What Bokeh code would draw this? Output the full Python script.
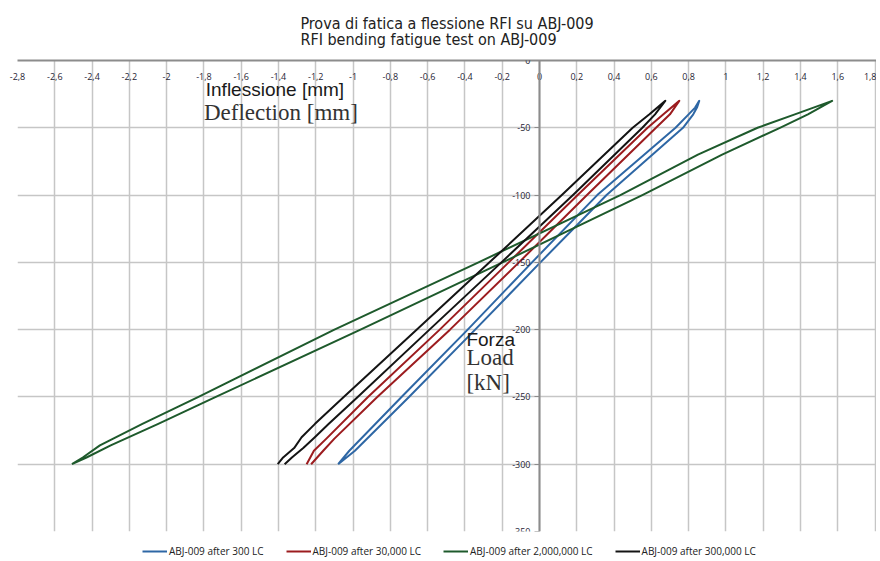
from bokeh.plotting import figure
from bokeh.layouts import column
from bokeh.models import (Range1d, FixedTicker, Label, Title, Legend, LegendItem,
                          CustomJSTickFormatter)
from bokeh.embed import file_html
from bokeh.resources import INLINE

# ---------------- data ----------------
title_it = "Prova di fatica a flessione RFI su ABJ-009"
title_en = "RFI bending fatigue test on ABJ-009"

x_ticks = [-2.8, -2.6, -2.4, -2.2, -2.0, -1.8, -1.6, -1.4, -1.2, -1.0, -0.8, -0.6,
           -0.4, -0.2, 0.0, 0.2, 0.4, 0.6, 0.8, 1.0, 1.2, 1.4, 1.6, 1.8]
x_tick_labels = ["-2,8", "-2,6", "-2,4", "-2,2", "-2", "-1,8", "-1,6", "-1,4", "-1,2", "-1",
                 "-0,8", "-0,6", "-0,4", "-0,2", "0", "0,2", "0,4", "0,6", "0,8", "1",
                 "1,2", "1,4", "1,6", "1,8"]
y_ticks = [0, -50, -100, -150, -200, -250, -300, -350]
y_tick_labels = ["0", "-50", "-100", "-150", "-200", "-250", "-300", "-350"]

series_names = ["ABJ-009 after 300 LC", "ABJ-009 after 30,000 LC",
                "ABJ-009 after 2,000,000 LC", "ABJ-009 after 300,000 LC"]
series_colors = ["#2e67a5", "#9c1c1f", "#1e5a2c", "#141414"]

# load levels [kN] and deflections [mm] of the two branches of each loop
blue_y = [-300, -290, -250, -200, -150, -100, -50, -40, -35, -30]
blue_lower_x = [-1.08, -0.99, -0.70, -0.345, 0.005, 0.36, 0.77, 0.825, 0.845, 0.857]
blue_upper_x = [-1.08, -1.02, -0.74, -0.385, -0.04, 0.31, 0.73, 0.80, 0.835, 0.857]

red_y = [-300, -290, -281, -250, -200, -150, -100, -50, -40, -30]
red_lower_x = [-1.225, -1.16, -1.10, -0.87, -0.48, -0.11, 0.255, 0.625, 0.70, 0.75]
red_upper_x = [-1.249, -1.21, -1.143, -0.92, -0.535, -0.165, 0.205, 0.58, 0.665, 0.75]

green_y = [-300, -295, -286, -270, -250, -200, -150, -100, -70, -50, -40, -30]
green_lower_x = [-2.508, -2.43, -2.30, -2.045, -1.736, -0.96, -0.198, 0.552, 0.98, 1.29, 1.44, 1.57]
green_upper_x = [-2.508, -2.45, -2.358, -2.13, -1.829, -1.10, -0.327, 0.434, 0.85, 1.17, 1.37, 1.57]

black_y = [-300, -295, -288, -280, -270, -250, -200, -150, -100, -50, -40, -30]
black_lower_x = [-1.367, -1.328, -1.267, -1.205, -1.13, -0.975, -0.59, -0.204, 0.18, 0.552, 0.62, 0.675]
black_upper_x = [-1.404, -1.375, -1.316, -1.276, -1.204, -1.05, -0.659, -0.268, 0.12, 0.50, 0.59, 0.675]

loops = [
    (blue_y, blue_lower_x, blue_upper_x),
    (red_y, red_lower_x, red_upper_x),
    (green_y, green_lower_x, green_upper_x),
    (black_y, black_lower_x, black_upper_x),
]

LABEL_JS = """
let best = 0, bd = Infinity;
for (let i = 0; i < tvals.length; i++) {
  const d = Math.abs(tvals[i] - tick);
  if (d < bd) { bd = d; best = i; }
}
return ttext[best];
"""

# ---------------- main figure ----------------
p = figure(width=876, height=539, output_backend="svg", toolbar_location=None,
           title=None, x_axis_location="above",
           x_range=Range1d(-2.8, 1.808), y_range=Range1d(-350, 0),
           min_border_left=17, min_border_right=0, min_border_top=59, min_border_bottom=8)
p.outline_line_color = None

# x axis along y = 0 (top edge of the frame), labels below the line
xax = p.xaxis[0]
xax.ticker = FixedTicker(ticks=x_ticks)
xax.formatter = CustomJSTickFormatter(args=dict(tvals=x_ticks, ttext=x_tick_labels), code=LABEL_JS)
xax.axis_line_color = "#8c8c8c"
xax.axis_line_width = 2
xax.major_tick_in = 0
xax.major_tick_out = 0
xax.minor_tick_line_color = None
xax.major_label_standoff = -19
xax.major_label_text_font = "Open Sans"
xax.major_label_text_font_size = "9px"
xax.major_label_text_color = "#1f2535"

p.add_layout(Title(text=title_it + "\n" + title_en, align="center", offset=5,
                   text_font="DejaVu Sans Condensed", text_font_size="16px",
                   text_font_style="normal", text_color="#222222",
                   text_line_height=0.85, standoff=23), "above")

# y axis along x = 0
yax = p.yaxis[0]
yax.fixed_location = 0
yax.ticker = FixedTicker(ticks=y_ticks)
yax.formatter = CustomJSTickFormatter(args=dict(tvals=y_ticks, ttext=y_tick_labels), code=LABEL_JS)
yax.axis_line_color = "#8c8c8c"
yax.axis_line_width = 2
yax.major_tick_in = 0
yax.major_tick_out = 5
yax.major_tick_line_color = "#8c8c8c"
yax.minor_tick_line_color = None
yax.major_label_standoff = 4
yax.major_label_text_font = "Open Sans"
yax.major_label_text_font_size = "9px"
yax.major_label_text_color = "#1f2535"

p.xgrid[0].grid_line_color = "#c6c6c6"
p.xgrid[0].grid_line_width = 1.5
p.ygrid[0].grid_line_color = "#c6c6c6"
p.ygrid[0].grid_line_width = 1.5

for (ys, lower, upper), col in zip(loops, series_colors):
    xs = list(lower) + list(upper)[::-1]
    yy = list(ys) + list(ys)[::-1]
    p.line(xs, yy, line_color=col, line_width=2, line_join="round")

p.add_layout(Label(x=-1.79, y=-21.5, text="Inflessione [mm]", text_font="Liberation Sans",
                   text_font_size="19px", text_color="#1a1a1a", text_baseline="middle"))
p.add_layout(Label(x=-1.80, y=-38.5, text="Deflection [mm]", text_font="Liberation Serif",
                   text_font_size="23px", text_color="#333333", text_baseline="middle"))
p.add_layout(Label(x=-0.392, y=-207, text="Forza", text_font="Liberation Sans",
                   text_font_size="19px", text_color="#1a1a1a", text_baseline="middle"))
p.add_layout(Label(x=-0.392, y=-220.5, text="Load", text_font="Liberation Serif",
                   text_font_size="23px", text_color="#333333", text_baseline="middle"))
p.add_layout(Label(x=-0.392, y=-239, text="[kN]", text_font="Liberation Serif",
                   text_font_size="23px", text_color="#333333", text_baseline="middle"))

# ---------------- legend strip below ----------------
q = figure(width=876, height=20, output_backend="svg", toolbar_location=None,
           title=None, x_range=Range1d(0, 1), y_range=Range1d(0, 1),
           min_border=0)
q.axis.visible = False
q.grid.visible = False
q.outline_line_color = None
items = []
for name, col in zip(series_names, series_colors):
    r = q.line(x=[0.5], y=[0.5], line_color=col, line_width=2)
    items.append(LegendItem(label=name, renderers=[r]))
legend = Legend(items=items, orientation="horizontal", location=(125, 1),
                label_text_font="Open Sans", label_text_font_size="10px",
                label_text_color="#222222", glyph_width=25, glyph_height=10,
                label_standoff=2, spacing=22, padding=2, margin=0,
                border_line_color=None, background_fill_alpha=0)
q.add_layout(legend)

open("out.html", "w").write(file_html(column(p, q, spacing=0), INLINE))
